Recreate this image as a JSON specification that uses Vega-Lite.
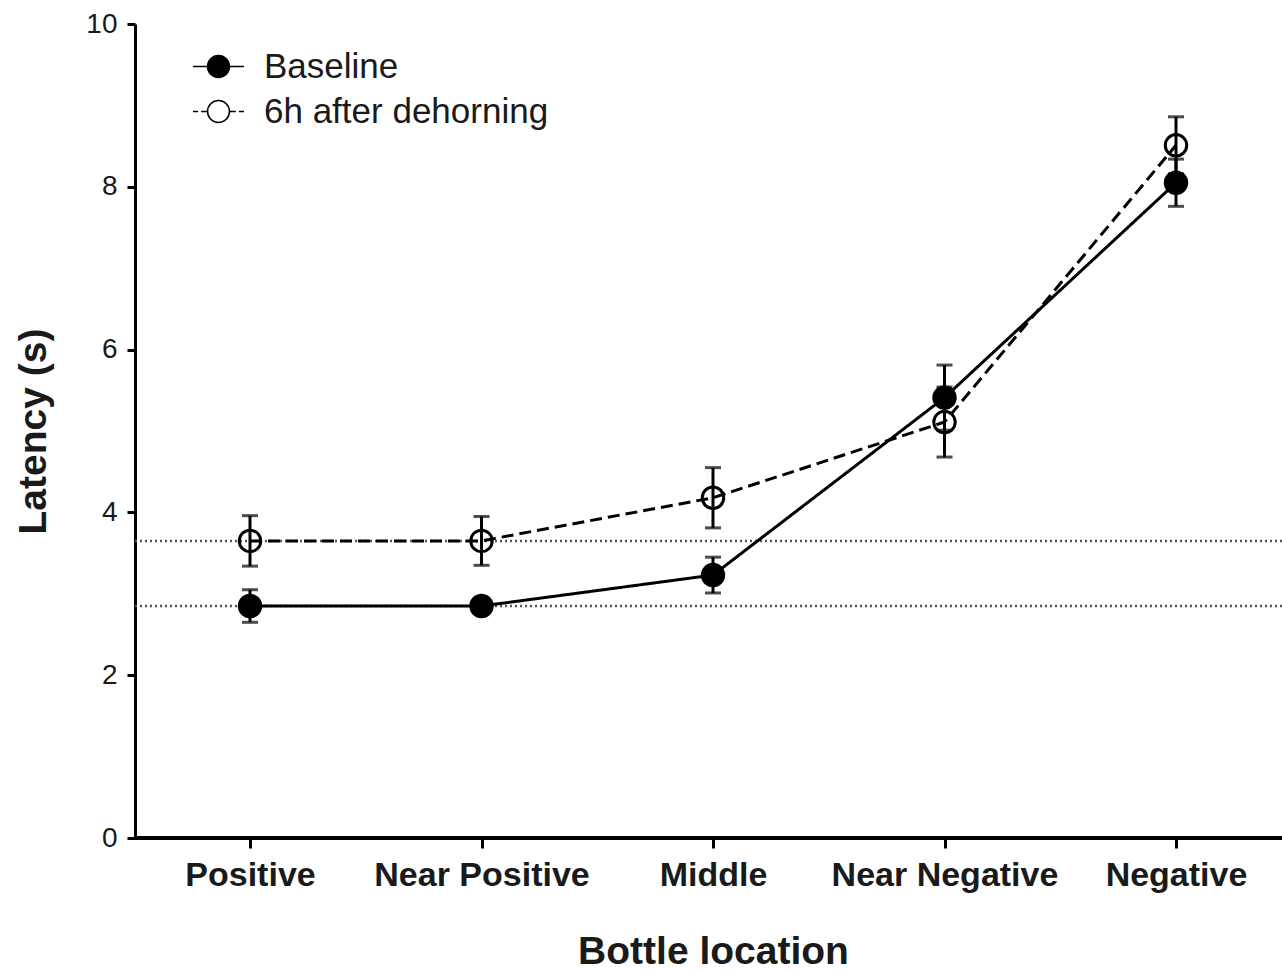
{
  "$schema": "https://vega.github.io/schema/vega-lite/v6.json",
  "autosize": {"type": "none"},
  "padding": {"left": 135, "top": 24, "right": 0, "bottom": 133},
  "width": 1147,
  "height": 814,
  "background": "white",
  "config": {
    "view": {"stroke": null},
    "font": "Liberation Sans",
    "axis": {"domainColor": "black", "domainWidth": 3, "tickColor": "black", "tickWidth": 3, "labelColor": "#1a1a1a", "titleColor": "#1a1a1a", "grid": false, "labelFont": "Liberation Sans", "titleFont": "Liberation Sans"},
    "legend": {"labelFont": "Liberation Sans"}
  },
  "data": {
    "values": [
      {"loc": "Positive", "series": "Baseline", "mean": 2.85, "err": 0.2},
      {"loc": "Near Positive", "series": "Baseline", "mean": 2.85, "err": 0.05},
      {"loc": "Middle", "series": "Baseline", "mean": 3.23, "err": 0.22},
      {"loc": "Near Negative", "series": "Baseline", "mean": 5.41, "err": 0.4},
      {"loc": "Negative", "series": "Baseline", "mean": 8.05, "err": 0.29},
      {"loc": "Positive", "series": "6h after dehorning", "mean": 3.65, "err": 0.31},
      {"loc": "Near Positive", "series": "6h after dehorning", "mean": 3.65, "err": 0.3},
      {"loc": "Middle", "series": "6h after dehorning", "mean": 4.18, "err": 0.37},
      {"loc": "Near Negative", "series": "6h after dehorning", "mean": 5.11, "err": 0.43},
      {"loc": "Negative", "series": "6h after dehorning", "mean": 8.51, "err": 0.35}
    ]
  },
  "layer": [
    {
      "transform": [{"filter": "datum.loc === 'Positive'"}],
      "mark": {"type": "rule", "color": "#555555", "strokeWidth": 2.5, "strokeDash": [2, 3]},
      "encoding": {"y": {"field": "mean", "type": "quantitative", "title": "Latency (s)"}}
    },
    {
      "mark": {"type": "rule", "color": "black", "strokeWidth": 3},
      "encoding": {"y": {"datum": 0, "type": "quantitative", "title": "Latency (s)"}}
    },
    {
      "mark": {"type": "line", "color": "black", "strokeWidth": 3},
      "encoding": {
        "x": {"field": "loc", "type": "nominal", "sort": ["Positive", "Near Positive", "Middle", "Near Negative", "Negative"], "title": "Bottle location"},
        "y": {"field": "mean", "type": "quantitative", "title": "Latency (s)"},
        "detail": {"field": "series", "type": "nominal"},
        "strokeDash": {"condition": {"test": "datum.series === '6h after dehorning'", "value": [12, 6]}, "value": [1, 0]}
      }
    },
    {
      "mark": {"type": "errorbar", "color": "black", "ticks": {"size": 16, "thickness": 3}, "rule": {"strokeWidth": 3}},
      "encoding": {
        "x": {"field": "loc", "type": "nominal", "sort": ["Positive", "Near Positive", "Middle", "Near Negative", "Negative"], "title": "Bottle location"},
        "y": {"field": "mean", "type": "quantitative", "title": "Latency (s)"},
        "yError": {"field": "err"}
      }
    },
    {
      "mark": {"type": "point", "filled": true, "stroke": "black", "strokeWidth": 3, "size": 460, "opacity": 1},
      "encoding": {
        "x": {
          "field": "loc", "type": "nominal",
          "sort": ["Positive", "Near Positive", "Middle", "Near Negative", "Negative"],
          "scale": {"type": "point", "range": [115, 1041], "padding": 0},
          "title": "Bottle location",
          "axis": {"domain": false, "labelFontSize": 34, "labelFontWeight": "bold", "labelAngle": 0, "labelAlign": "center", "labelBaseline": "top", "labelLimit": 0, "tickSize": 10, "labelPadding": 10, "titleFontSize": 39, "titleFontWeight": "bold", "titlePadding": 40}
        },
        "y": {
          "field": "mean", "type": "quantitative",
          "scale": {"domain": [0, 10], "nice": false, "zero": true},
          "title": "Latency (s)",
          "axis": {"values": [0, 2, 4, 6, 8, 10], "format": "d", "labelFontSize": 28, "tickSize": 8, "labelPadding": 10, "titleFontSize": 39, "titleFontWeight": "bold", "titlePadding": 32}
        },
        "fill": {"condition": {"test": "datum.series === 'Baseline'", "value": "black"}, "value": "transparent"}
      }
    },
    {
      "mark": {"type": "point", "filled": true, "stroke": "black", "strokeWidth": 3, "size": 0, "opacity": 1},
      "encoding": {
        "x": {"field": "loc", "type": "nominal", "sort": ["Positive", "Near Positive", "Middle", "Near Negative", "Negative"], "title": "Bottle location"},
        "y": {"field": "mean", "type": "quantitative", "title": "Latency (s)"},
        "fill": {
          "field": "series", "type": "nominal",
          "scale": {"domain": ["Baseline", "6h after dehorning"], "range": ["black", "transparent"]},
          "legend": {
            "title": null, "orient": "none", "legendX": 57, "legendY": 16, "direction": "vertical",
            "symbolSize": 2600,
            "labelFontSize": 35, "labelColor": "#1a1a1a", "labelOffset": 19, "labelLimit": 0, "rowPadding": -9,
            "encode": {"symbols": {"update": {"stroke": {"value": "black"}, "strokeWidth": {"value": 3.5}, "strokeOpacity": {"value": 1}}}}
          }
        },
        "shape": {
          "field": "series", "type": "nominal",
          "scale": {"domain": ["Baseline", "6h after dehorning"], "range": [
            "M-1,0H-0.43M0.43,0H1M0.43,0A0.43,0.43,0,1,1,-0.43,0A0.43,0.43,0,1,1,0.43,0Z",
            "M-1,0H-0.8M-0.68,0H-0.43M0.43,0H0.68M0.8,0H1M0.43,0A0.43,0.43,0,1,1,-0.43,0A0.43,0.43,0,1,1,0.43,0Z"
          ]},
          "legend": {
            "title": null, "orient": "none", "legendX": 57, "legendY": 16, "direction": "vertical",
            "symbolSize": 2600,
            "labelFontSize": 35, "labelColor": "#1a1a1a", "labelOffset": 19, "labelLimit": 0, "rowPadding": -9,
            "encode": {"symbols": {"update": {"stroke": {"value": "black"}, "strokeWidth": {"value": 3.5}, "strokeOpacity": {"value": 1}}}}
          }
        }
      }
    }
  ]
}
